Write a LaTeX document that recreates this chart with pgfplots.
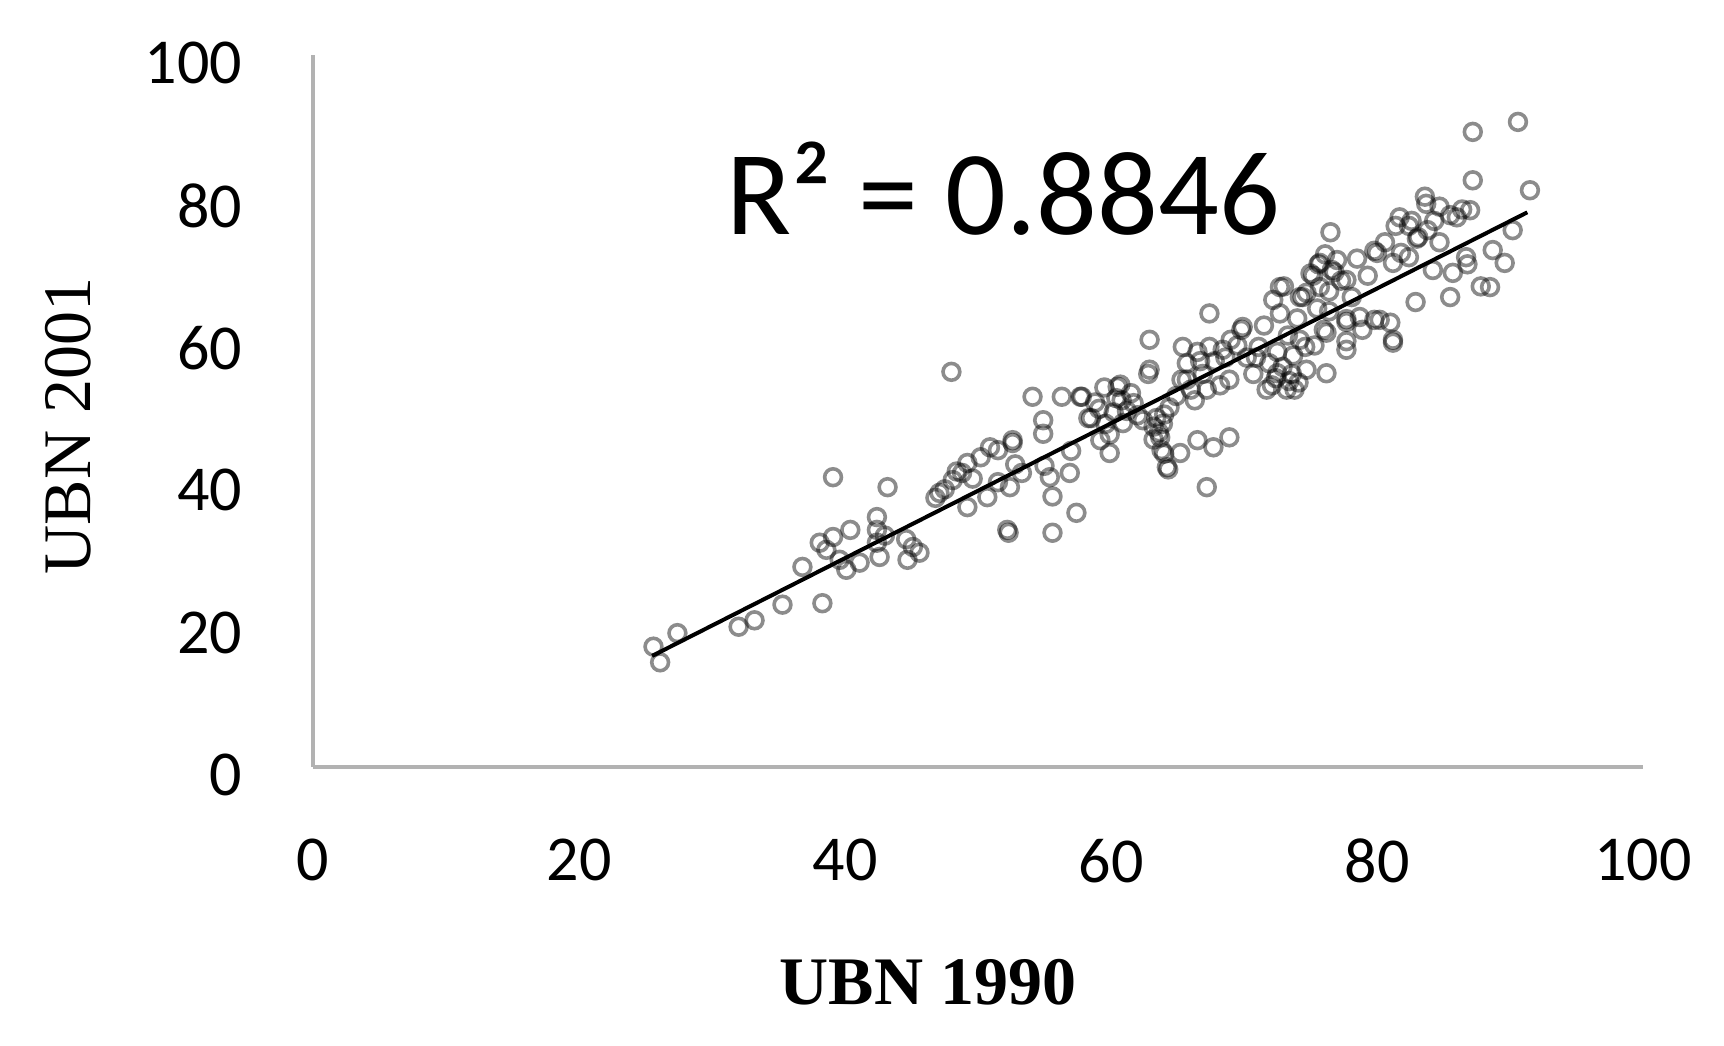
\documentclass[border=0pt]{standalone}
\usepackage{pgfplots}
\pgfplotsset{compat=1.18}
\usepackage{fontspec}
\setmainfont{Carlito}
\newfontfamily\tnr{Liberation Serif}
\pgfplotstableread{
x y
25.6 16.9
26.1 14.7
27.4 18.8
32.0 19.7
33.2 20.6
35.3 22.8
36.8 28.1
38.3 23.0
39.1 40.7
38.1 31.5
38.6 30.5
39.1 32.3
39.6 29.1
40.4 33.3
40.1 27.7
41.1 28.7
42.4 35.1
42.4 33.3
42.4 31.5
43.0 32.5
42.6 29.5
43.2 39.3
44.7 29.1
45.1 30.9
45.6 30.1
44.6 32.0
46.8 37.8
47.1 38.5
47.5 39.0
48.1 40.3
48.4 41.5
48.8 41.3
49.2 42.7
49.2 36.5
49.6 40.5
50.2 43.5
50.7 37.9
50.9 44.9
51.5 44.5
51.5 40.0
52.2 33.3
52.6 45.9
52.8 42.5
53.3 41.3
48.0 55.5
52.6 45.5
52.4 39.3
52.3 32.9
54.1 52.0
54.9 48.7
54.9 46.8
55.0 42.3
55.4 40.7
55.6 38.0
55.6 32.9
56.3 52.0
56.9 41.3
57.0 44.4
57.4 35.7
57.7 52.0
57.8 52.0
58.3 49.0
58.5 49.0
58.8 51.2
59.1 50.3
59.2 45.9
59.5 53.3
59.6 48.2
59.9 44.1
59.9 46.7
60.2 49.8
60.4 51.8
60.5 53.4
60.7 53.7
60.8 51.5
60.9 48.3
61.2 50.0
61.5 52.5
61.7 51.1
62.0 49.4
62.4 48.7
62.8 55.2
62.9 60.0
62.9 55.8
63.2 47.8
63.2 46.0
63.4 49.0
63.6 47.0
63.7 46.3
63.8 44.5
63.9 48.2
64.0 49.5
64.0 44.0
64.2 42.1
64.3 41.8
64.4 50.5
64.9 52.1
65.2 44.1
65.3 54.4
65.4 59.0
65.7 54.4
65.7 56.7
66.0 53.0
66.3 51.5
66.5 45.9
66.5 58.3
66.7 57.0
66.9 55.2
67.2 39.3
67.2 53.0
67.4 63.7
67.4 59.0
67.7 44.9
67.8 57.0
68.2 53.6
68.4 58.6
68.6 57.5
68.9 46.3
68.9 54.4
69.0 60.0
69.5 59.2
69.8 61.4
69.9 61.8
70.2 57.5
70.7 55.2
70.9 57.5
71.1 59.0
71.5 62.0
71.7 53.0
71.9 56.7
72.1 53.6
72.2 65.6
72.4 54.6
72.5 55.3
72.5 58.3
72.7 67.4
72.7 63.7
72.9 56.2
73.0 67.5
73.2 53.0
73.3 60.6
73.4 54.2
73.6 55.2
73.7 57.8
73.8 53.0
74.0 63.0
74.1 54.0
74.2 66.0
74.2 60.0
74.4 66.0
74.6 59.0
74.7 55.8
74.7 66.6
75.0 69.3
75.2 69.0
75.3 59.2
75.5 64.4
75.6 70.6
75.7 67.4
75.7 70.8
76.0 61.4
76.1 72.0
76.2 55.3
76.2 61.0
76.4 64.0
76.4 66.8
76.5 75.1
76.6 69.8
76.8 69.5
77.0 71.2
77.3 68.3
77.7 58.6
77.7 62.5
77.7 62.9
77.7 59.8
77.7 68.4
78.1 66.0
78.5 71.4
78.7 63.2
78.9 61.4
79.3 69.0
79.8 62.8
79.8 72.5
80.0 72.2
80.2 62.8
80.6 73.7
81.0 62.4
81.2 59.6
81.2 60.0
81.2 70.8
81.4 76.0
81.7 77.2
81.8 72.2
82.4 76.0
82.4 71.6
82.6 76.7
82.9 65.3
83.0 74.2
83.1 74.4
83.6 80.1
83.7 79.1
83.8 75.4
84.2 69.8
84.3 76.7
84.7 78.7
84.7 73.7
85.5 77.5
85.5 66.0
85.7 69.4
86.0 77.2
86.4 78.3
86.7 71.6
86.8 70.6
87.0 78.2
87.2 89.2
87.2 82.4
87.8 67.5
88.5 67.4
88.7 72.6
89.6 70.8
90.2 75.4
90.6 90.6
91.5 81.0
}\pts
\begin{document}
\begin{tikzpicture}
\begin{axis}[
 at={(0,0)}, anchor=origin,
 scale only axis, width=332.5pt, height=178pt,
 xmin=0, xmax=100, ymin=0, ymax=100,
 axis x line=bottom, axis y line=left,
 axis line style={-, draw=black!30, line width=1pt},
 xtick={0,20,...,100}, ytick={0,20,...,100},
 major tick length=0pt,
 tick style={draw=none},
 /pgf/number format/assume math mode=true,
 ticklabel style={font=\fontsize{16}{16}\selectfont, text=black},
 xticklabel style={anchor=north, inner sep=0pt, yshift=-17.75pt},
 yticklabel style={anchor=east, inner sep=0pt, xshift=-17.5pt, yshift=-2pt},
 clip=false,
]
\addplot[only marks, mark=o, mark size=2.1pt, mark options={draw=black, draw opacity=0.45, line width=0.9pt}] table[x=x,y=y] {\pts};
\addplot[black, line width=1pt] coordinates {(25.5,15.6) (91.3,77.9)};
\end{axis}
\node[anchor=base, font=\fontsize{30}{30}\selectfont] at (172.5pt,133pt) {R² = 0.8846};
\node[anchor=base, font=\tnr\bfseries\fontsize{17}{17}\selectfont] at (153.75pt,-59.5pt) {UBN 1990};
\node[anchor=base, rotate=90, font=\tnr\fontsize{17}{17}\selectfont] at (-55.75pt,85.25pt) {UBN 2001};
\pgfresetboundingbox
\useasboundingbox (-78.25pt,-69.75pt) rectangle (352.75pt,191.75pt);
\end{tikzpicture}
\end{document}
